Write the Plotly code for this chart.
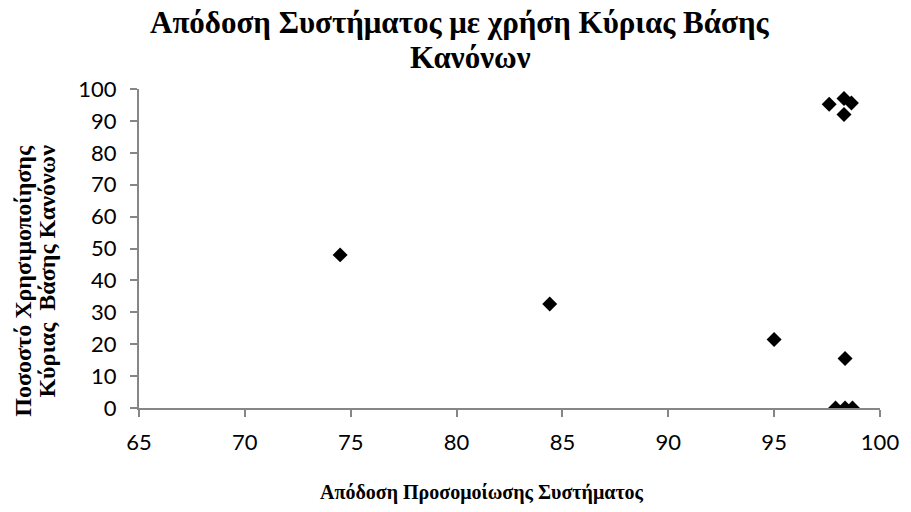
import plotly.graph_objects as go

# Data
system_performance = [74.5, 84.4, 95.0, 98.35, 97.9, 98.35, 98.7, 97.6, 98.3, 98.65, 98.3]
main_rulebase_usage = [48.0, 32.6, 21.5, 15.5, 0.0, 0.0, 0.0, 95.2, 97.0, 95.6, 92.0]

x_ticks = [65, 70, 75, 80, 85, 90, 95, 100]
y_ticks = [0, 10, 20, 30, 40, 50, 60, 70, 80, 90, 100]

title_line1 = "Απόδοση Συστήματος με χρήση Κύριας Βάσης"
title_line2 = "Κανόνων"
x_title = "Απόδοση Προσομοίωσης Συστήματος"
y_title_line1 = "Ποσοστό Χρησιμοποίησης"
y_title_line2 = "Κύριας  Βάσης Κανόνων"

serif = "Liberation Serif, Times New Roman, serif"
sans = "Lato, Carlito, Liberation Sans, sans-serif"
axis_color = "#868686"

fig = go.Figure()
fig.add_trace(go.Scatter(
    x=system_performance,
    y=main_rulebase_usage,
    mode="markers",
    marker=dict(symbol="diamond", size=11.5, color="black", line=dict(width=0)),
    showlegend=False,
))

axis_common = dict(
    showgrid=False,
    zeroline=False,
    showline=True,
    linecolor=axis_color,
    linewidth=2,
    ticks="outside",
    ticklen=7,
    tickwidth=2,
    tickcolor=axis_color,
    tickfont=dict(family=sans, size=22, color="black"),
)

fig.update_layout(
    width=911,
    height=512,
    paper_bgcolor="white",
    plot_bgcolor="white",
    margin=dict(l=139, r=22, t=89, b=104),
    xaxis=dict(range=[65, 100], tickvals=x_ticks,
               ticktext=[str(v) for v in x_ticks],
               ticklabelstandoff=7, **axis_common),
    yaxis=dict(range=[0, 100], tickvals=y_ticks,
               ticktext=[str(v) for v in y_ticks],
               ticklabelstandoff=9, **axis_common),
    annotations=[
        dict(text="<b>" + title_line1 + "</b>", xref="paper", yref="paper",
             x=0.4327, y=1.207, xanchor="center", yanchor="middle",
             showarrow=False, font=dict(family=serif, size=31, color="black")),
        dict(text="<b>" + title_line2 + "</b>", xref="paper", yref="paper",
             x=0.448, y=1.1, xanchor="center", yanchor="middle",
             showarrow=False, font=dict(family=serif, size=31, color="black")),
        dict(text="<b>" + x_title + "</b>", xref="paper", yref="paper",
             x=0.4633, y=-0.265, xanchor="center", yanchor="middle",
             showarrow=False, font=dict(family=serif, size=20, color="black")),
        dict(text="<b>" + y_title_line1 + "</b>", xref="paper", yref="paper",
             x=-0.157, y=0.398, xanchor="center", yanchor="middle",
             textangle=-90, showarrow=False,
             font=dict(family=serif, size=24, color="black")),
        dict(text="<b>" + y_title_line2 + "</b>", xref="paper", yref="paper",
             x=-0.1245, y=0.43, xanchor="center", yanchor="middle",
             textangle=-90, showarrow=False,
             font=dict(family=serif, size=24, color="black")),
    ],
)

fig.write_html("out.html", config={"displayModeBar": False},
               post_script="document.body.style.margin='0';")
